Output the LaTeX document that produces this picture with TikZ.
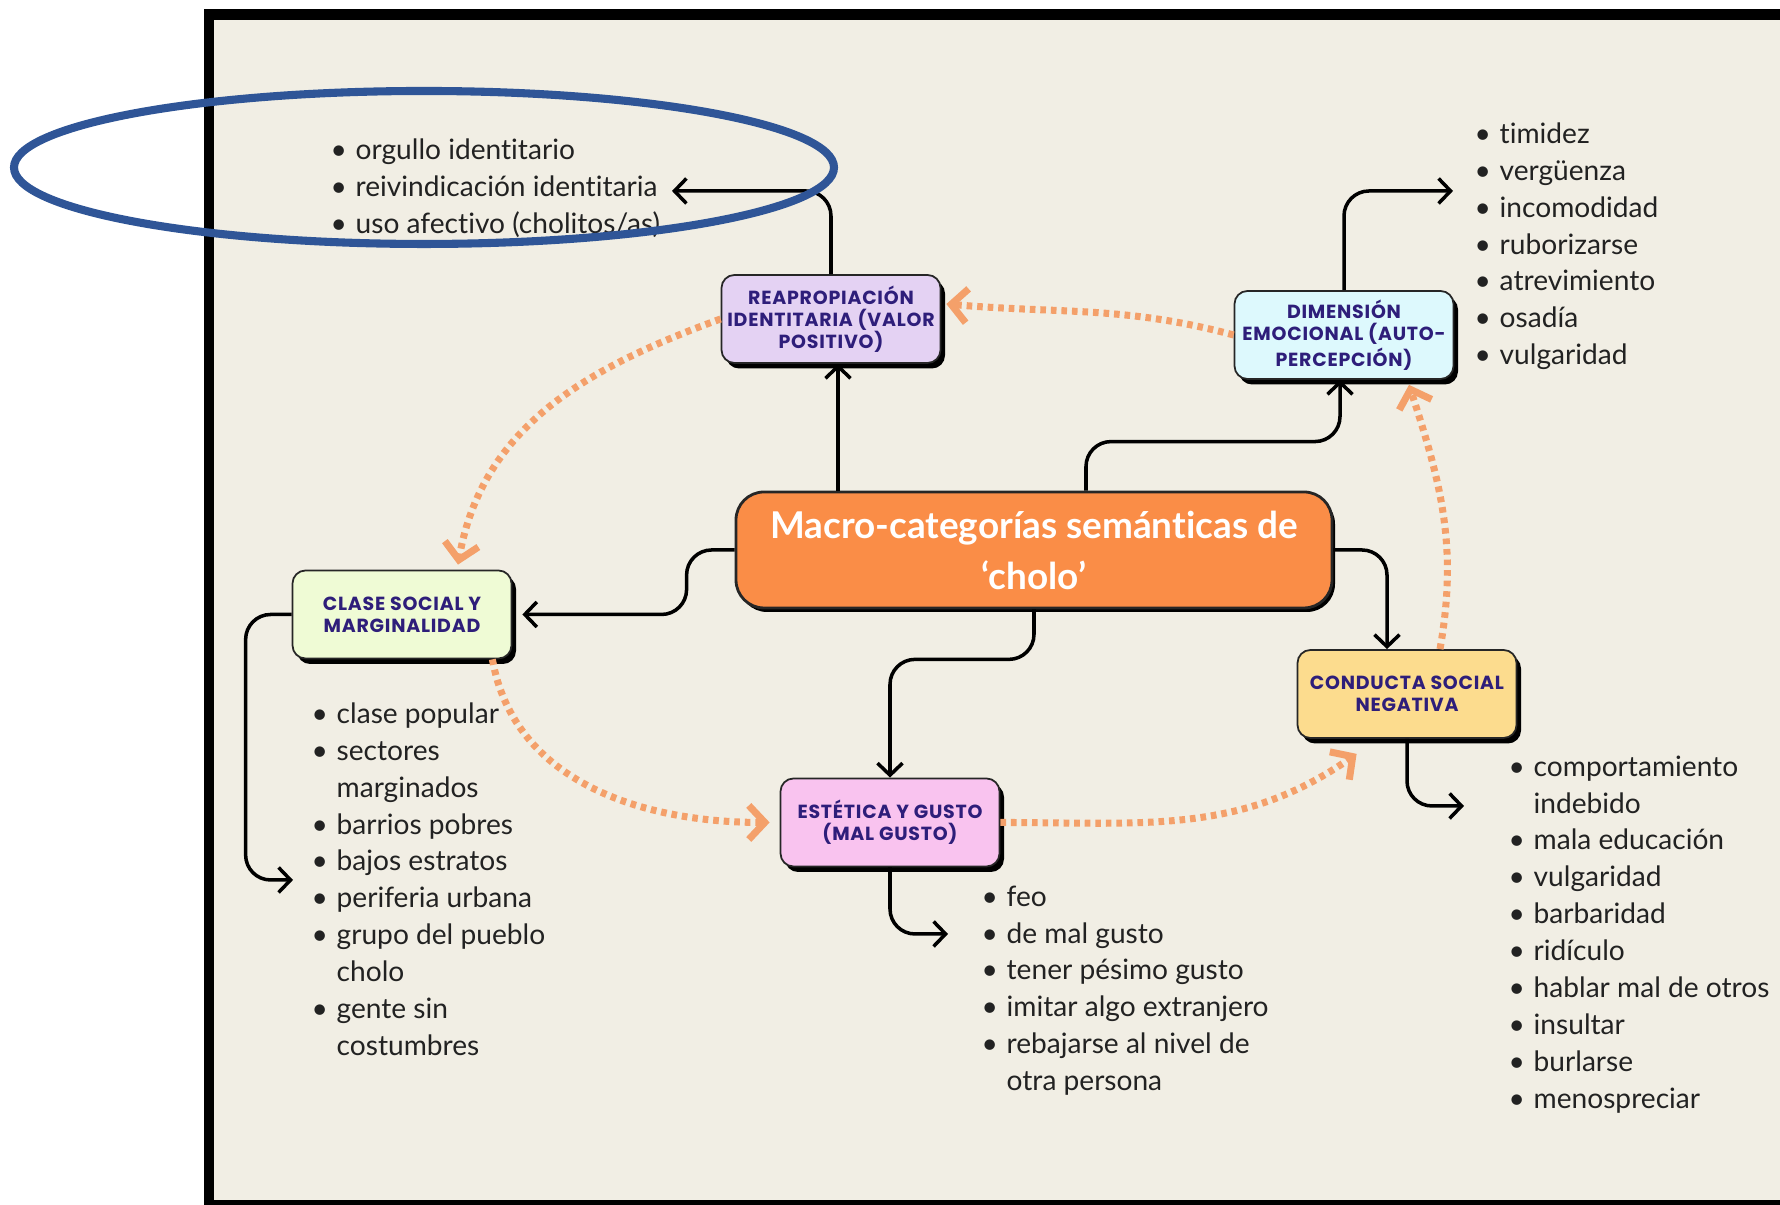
\documentclass[tikz,border=0pt]{standalone}
\usepackage{fontspec}
\setmainfont{Lato}[Ligatures=NoCommon]
\newfontfamily\headfont[LetterSpace=4]{Poppins}
\usetikzlibrary{arrows.meta,shadows}

\definecolor{paper}{HTML}{F1EEE4}
\definecolor{ringblue}{HTML}{2F5597}
\definecolor{macrofill}{HTML}{FA8D47}
\definecolor{reapfill}{HTML}{E4D2F3}
\definecolor{dimfill}{HTML}{DDF9FD}
\definecolor{clasefill}{HTML}{EFFBD5}
\definecolor{condfill}{HTML}{FCDC8E}
\definecolor{estfill}{HTML}{F9C3EF}
\definecolor{headink}{HTML}{2E1E7A}
\definecolor{listink}{HTML}{222222}
\definecolor{linkorange}{HTML}{F4A06A}

\newcommand{\itm}{\makebox[2.5mm][l]{\textbullet}}
\newcommand{\cnt}{\hspace*{2.5mm}}

\tikzset{
    catbox/.style={draw=black!85, line width=0.5pt, rounded corners=1.3mm,
        minimum width=2.19cm, minimum height=0.88cm, align=center, inner sep=1pt,
        text=headink, font=\headfont\bfseries\fontsize{5.4}{6.3}\selectfont,
        drop shadow={shadow xshift=0.45mm, shadow yshift=-0.55mm, fill=black, opacity=1}},
    lst/.style={anchor=north west, inner sep=0pt, align=left, text=listink,
        font=\fontsize{8}{10.5}\selectfont},
    catlink/.style={->, line width=1pt, rounded corners=2.5mm},
    dotlink/.style={draw=linkorange, line width=2pt, dash pattern=on 1.6pt off 1.4pt,
        -{Straight Barb[length=1.6mm, width=3.4mm]}},
}

\begin{document}
\begin{tikzpicture}[>={Straight Barb[length=1.2mm, width=2.5mm]}]

    \useasboundingbox (0,0) rectangle (17.8,12.05);
    \clip (0,0) rectangle (17.8,12.05);
    \fill[white] (0,0) rectangle (17.8,12.05);
    \fill[black] (2.04,-0.5) rectangle (18.5,11.96);
    \fill[paper] (2.14,0.05) rectangle (18.5,11.85);

    \node[draw=black!85, line width=0.8pt, fill=macrofill, rounded corners=2.8mm,
        minimum width=5.96cm, minimum height=1.16cm, align=center, text=white,
        font=\bfseries\fontsize{10.5}{14.5}\selectfont,
        drop shadow={shadow xshift=0.3mm, shadow yshift=-0.4mm, fill=black, opacity=1}]
        (macro) at (10.34,6.55) {Macro-categorías semánticas de\\‘cholo’};

    \node[catbox, fill=reapfill] (reap) at (8.31,8.86) {REAPROPIACIÓN\\IDENTITARIA (VALOR\\POSITIVO)};
    \node[catbox, fill=dimfill] (dim) at (13.44,8.70) {DIMENSIÓN\\EMOCIONAL (AUTO-\\PERCEPCIÓN)};
    \node[catbox, fill=clasefill] (clase) at (4.02,5.905) {CLASE SOCIAL Y\\MARGINALIDAD};
    \node[catbox, fill=condfill] (cond) at (14.07,5.11) {CONDUCTA SOCIAL\\NEGATIVA};
    \node[catbox, fill=estfill] (est) at (8.90,3.825) {ESTÉTICA Y GUSTO\\(MAL GUSTO)};

    \node[lst] (reaplist) at (3.30,10.67) {\itm orgullo identitario\\\itm reivindicación identitaria\\\itm uso afectivo (cholitos/as)};
    \node[lst] (dimlist) at (14.74,10.83) {\itm timidez\\\itm vergüenza\\\itm incomodidad\\\itm ruborizarse\\\itm atrevimiento\\\itm osadía\\\itm vulgaridad};
    \node[lst] (claselist) at (3.11,5.03) {\itm clase popular\\\itm sectores\\\cnt marginados\\\itm barrios pobres\\\itm bajos estratos\\\itm periferia urbana\\\itm grupo del pueblo\\\cnt cholo\\\itm gente sin\\\cnt costumbres};
    \node[lst] (estlist) at (9.81,3.20) {\itm feo\\\itm de mal gusto\\\itm tener pésimo gusto\\\itm imitar algo extranjero\\\itm rebajarse al nivel de\\\cnt otra persona};
    \node[lst] (condlist) at (15.08,4.50) {\itm comportamiento\\\cnt indebido\\\itm mala educación\\\itm vulgaridad\\\itm barbaridad\\\itm ridículo\\\itm hablar mal de otros\\\itm insultar\\\itm burlarse\\\itm menospreciar};

    \coordinate (reivEnd) at (6.72,10.14);
    \coordinate (timEnd) at (14.53,10.14);
    \coordinate (bajEnd) at (2.93,3.25);
    \coordinate (feoEnd) at (9.48,2.71);
    \coordinate (compEnd) at (14.64,3.99);

    \draw[catlink] ([xshift=0.7mm]macro.north -| reap.south) -- ([xshift=0.7mm]reap.south);
    \draw[catlink] (reap.north) |- (reivEnd);
    \draw[catlink] ([xshift=5.2mm]macro.north) -- ++(0,0.49) -| ([xshift=-0.4mm]dim.south);
    \draw[catlink] (dim.north) |- (timEnd);
    \draw[catlink] (macro.west) -- ++(-0.48,0) |- ([xshift=1mm]clase.east);
    \draw[catlink] (clase.west) -- ++(-0.46,0) |- (bajEnd);
    \draw[catlink] (macro.south) -- ++(0,-0.5) -| (est.north);
    \draw[catlink] (est.south) |- (feoEnd);
    \draw[catlink] (macro.east) -| ([xshift=-2mm]cond.north);
    \draw[catlink] (cond.south) |- (compEnd);

    \draw[dotlink] (dim.west) to[out=165, in=-5] ([xshift=0.5mm, yshift=1.5mm]reap.east);
    \draw[dotlink] (reap.west) to[out=200, in=80] ([xshift=5.6mm, yshift=0.5mm]clase.north);
    \draw[dotlink] ([xshift=-2mm]clase.south east) to[out=-80, in=180] ([xshift=-1mm]est.west);
    \draw[dotlink] (est.east) to[out=0, in=215] ([xshift=6mm, yshift=-1.5mm]cond.south west);
    \draw[dotlink] ([xshift=3.3mm]cond.north) to[out=80, in=-72] ([xshift=6.5mm, yshift=-0.5mm]dim.south);

    \draw[ringblue, line width=2.3pt] (4.24,10.375) ellipse [x radius=4.10, y radius=0.765];
        \end{tikzpicture}
\end{document}
